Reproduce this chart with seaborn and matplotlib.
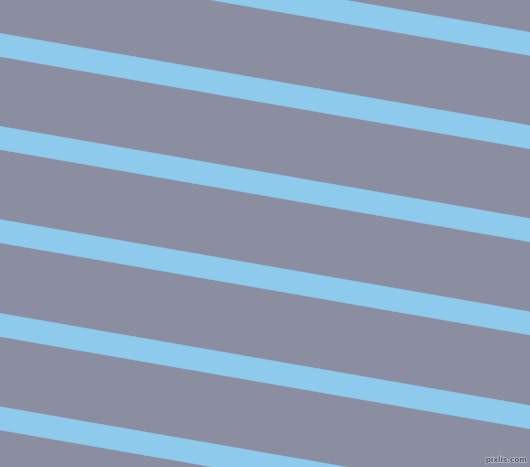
import numpy as np, pandas as pd, matplotlib
matplotlib.use('Agg')
import matplotlib.pyplot as plt
import matplotlib.patheffects as pe
import seaborn as sns

# stripe pattern: top edge of each band where it meets the left side (px)
stripe_tops = [-60.0, 33.3, 126.3, 219.5, 313.3, 406.7]
stripe_slope = 0.174
stripe_height = 23.3          # vertical thickness in px
x_span = [0, 530]

bg_color = '#8b8ea0'
stripe_color = '#8ecaec'

W, H = 530, 467
fig = plt.figure(figsize=(W / 100, H / 100), dpi=100)
ax = fig.add_axes([0, 0, 1, 1])
ax.set_facecolor(bg_color)
fig.patch.set_facecolor(bg_color)

rows = []
for i, top in enumerate(stripe_tops):
    for x in x_span:
        y0 = top + stripe_slope * x
        rows.append({'band': i, 'x': x, 'top': y0, 'bottom': y0 + stripe_height})
df = pd.DataFrame(rows)

# thin edge lines through seaborn, band filled between them
sns.lineplot(data=df, x='x', y='top', units='band', estimator=None, sort=False,
             color=stripe_color, linewidth=0.3, ax=ax)
sns.lineplot(data=df, x='x', y='bottom', units='band', estimator=None, sort=False,
             color=stripe_color, linewidth=0.3, ax=ax)
for i, g in df.groupby('band'):
    ax.fill_between(g['x'], g['top'], g['bottom'], color=stripe_color, linewidth=0)

ax.set_xlim(0, W)
ax.set_ylim(H, 0)
ax.axis('off')

ax.text(527, 463, 'pixlis.com', ha='right', va='bottom', fontsize=5.2,
        color='#5a5d6e', fontweight='bold',
        path_effects=[pe.withStroke(linewidth=1.2, foreground='#b4b7c4')])

fig.savefig('out.png', dpi=100, facecolor=bg_color)
